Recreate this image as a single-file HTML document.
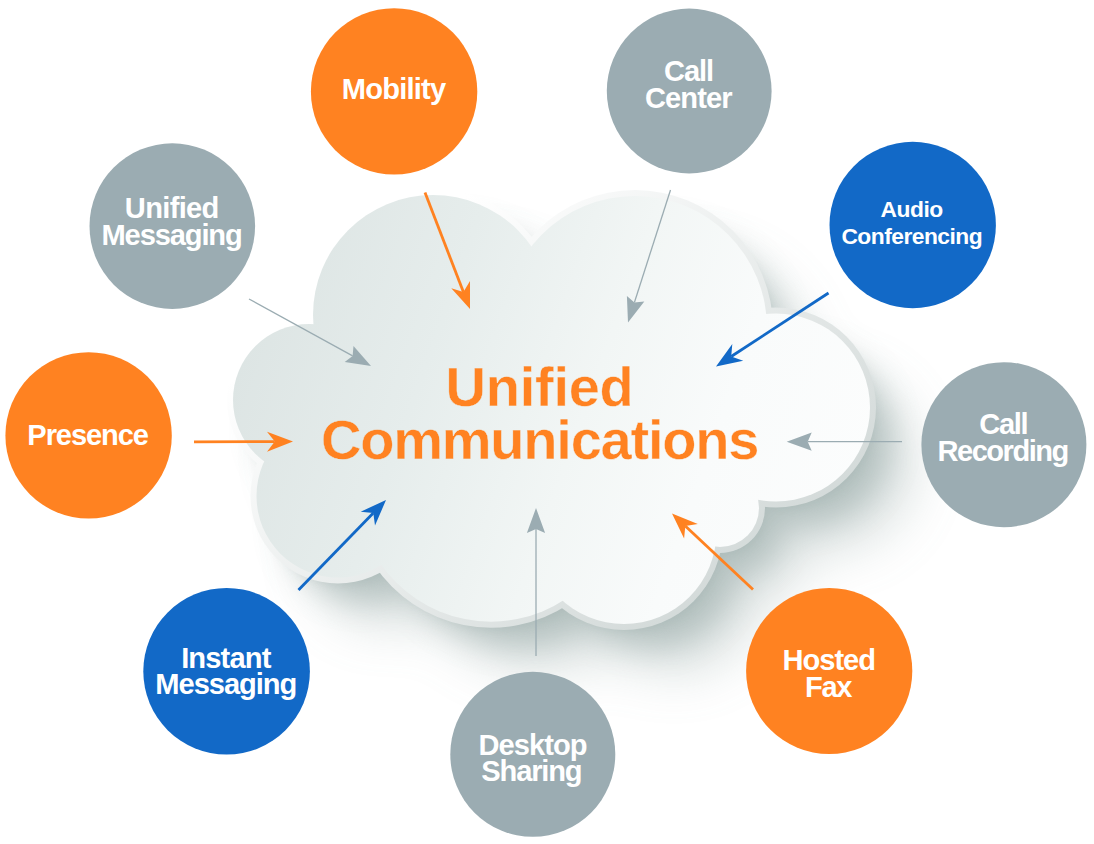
<!DOCTYPE html>
<html lang="en"><head><meta charset="utf-8"><title>Unified Communications</title>
<style>
html,body{margin:0;padding:0;background:#fff;}
body{width:1094px;height:844px;overflow:hidden;}
svg{display:block;}
text{font-family:"Liberation Sans",sans-serif;font-weight:bold;}
</style></head><body>
<svg width="1094" height="844" viewBox="0 0 1094 844">
<defs>
<linearGradient id="face" gradientUnits="userSpaceOnUse" x1="240" y1="300" x2="860" y2="520">
<stop offset="0" stop-color="#DCE4E3"/><stop offset="0.3" stop-color="#E6EDEC"/><stop offset="0.55" stop-color="#F2F6F5"/><stop offset="0.75" stop-color="#F9FBFB"/><stop offset="1" stop-color="#FCFDFD"/>
</linearGradient>
<linearGradient id="rim" gradientUnits="userSpaceOnUse" x1="350" y1="287" x2="646" y2="665">
<stop offset="0" stop-color="#FFFFFF"/><stop offset="1" stop-color="#D2D9D8"/>
</linearGradient>
<filter id="sh0" x="-30%" y="-30%" width="160%" height="160%"><feGaussianBlur stdDeviation="28"/></filter>
<filter id="sh1" x="-30%" y="-30%" width="160%" height="160%"><feGaussianBlur stdDeviation="16"/></filter>
<filter id="sh2" x="-30%" y="-30%" width="160%" height="160%"><feGaussianBlur stdDeviation="4"/></filter>
</defs>
<rect width="1094" height="844" fill="#fff"/>

<g class="cloud">
<g transform="translate(50,54)" filter="url(#sh0)" opacity="0.40"><g fill="#8FA3A0" ><circle cx="433" cy="315" r="110"/><circle cx="635" cy="328" r="122"/><circle cx="776" cy="407.5" r="84"/><circle cx="720" cy="508" r="29"/><circle cx="624" cy="531.5" r="82.5"/><circle cx="491" cy="487.4" r="124.30000000000001"/><circle cx="338" cy="496" r="71.5"/><circle cx="309" cy="400" r="66"/><polygon points="433,315 638,320 780,406 720,508 618,525 490,497 337,496 309,400"/></g></g>
<g transform="translate(24,27)" filter="url(#sh1)" opacity="0.46"><g fill="#8FA3A0" ><circle cx="433" cy="315" r="116"/><circle cx="635" cy="328" r="128"/><circle cx="776" cy="407.5" r="90"/><circle cx="720" cy="508" r="35"/><circle cx="624" cy="531.5" r="88.5"/><circle cx="491" cy="487.4" r="130.3"/><circle cx="338" cy="496" r="77.5"/><circle cx="309" cy="400" r="72"/><polygon points="433,315 638,320 780,406 720,508 618,525 490,497 337,496 309,400"/></g></g>
<g transform="translate(6,8)" filter="url(#sh2)" opacity="0.15"><g fill="#8FA3A0" ><circle cx="433" cy="315" r="120"/><circle cx="635" cy="328" r="132"/><circle cx="776" cy="407.5" r="94"/><circle cx="720" cy="508" r="39"/><circle cx="624" cy="531.5" r="92.5"/><circle cx="491" cy="487.4" r="134.3"/><circle cx="338" cy="496" r="81.5"/><circle cx="309" cy="400" r="76"/><polygon points="433,315 638,320 780,406 720,508 618,525 490,497 337,496 309,400"/></g></g>
<g fill="url(#rim)" ><circle cx="433" cy="315" r="126"/><circle cx="635" cy="328" r="138"/><circle cx="776" cy="407.5" r="100"/><circle cx="720" cy="508" r="45"/><circle cx="624" cy="531.5" r="98.5"/><circle cx="491" cy="487.4" r="140.3"/><circle cx="338" cy="496" r="87.5"/><circle cx="309" cy="400" r="82"/></g>
<g fill="url(#face)" ><circle cx="433" cy="315" r="120"/><circle cx="635" cy="328" r="132"/><circle cx="776" cy="407.5" r="94"/><circle cx="720" cy="508" r="39"/><circle cx="624" cy="531.5" r="92.5"/><circle cx="491" cy="487.4" r="134.3"/><circle cx="338" cy="496" r="81.5"/><circle cx="309" cy="400" r="76"/><polygon points="433,315 638,320 780,406 720,508 618,525 490,497 337,496 309,400"/></g>
</g>
<g class="title">
<text x="445.61" y="406" font-size="56" fill="#FF8221" stroke="url(#face)" stroke-width="0.4" textLength="188.19" lengthAdjust="spacing">Unified</text>
<text x="320.91" y="459" font-size="56" fill="#FF8221" stroke="url(#face)" stroke-width="0.4" textLength="438.54" lengthAdjust="spacing">Communications</text>
</g>
<g class="arrows">
<line x1="425.0" y1="192.5" x2="463.4" y2="292.0" stroke="#FF8221" stroke-width="2.8"/><polygon points="470.0,309.0 451.3,288.3 463.4,292.0 470.0,281.1" fill="#FF8221"/>
<line x1="249.0" y1="299.0" x2="352.6" y2="355.9" stroke="#9BACB2" stroke-width="1.3"/><polygon points="371.0,366.0 344.7,362.0 352.6,355.9 353.5,345.9" fill="#9BACB2"/>
<line x1="194.0" y1="441.8" x2="274.8" y2="441.6" stroke="#FF8221" stroke-width="2.8"/><polygon points="293.0,441.6 267.0,451.7 274.8,441.6 267.0,431.7" fill="#FF8221"/>
<line x1="670.5" y1="190.0" x2="634.4" y2="302.5" stroke="#9BACB2" stroke-width="1.3"/><polygon points="628.0,322.5 626.9,295.9 634.4,302.5 644.3,301.5" fill="#9BACB2"/>
<line x1="828.5" y1="293.0" x2="731.2" y2="356.5" stroke="#1269C7" stroke-width="2.8"/><polygon points="716.0,366.5 732.3,343.9 731.2,356.5 743.2,360.7" fill="#1269C7"/>
<line x1="902.0" y1="441.7" x2="807.7" y2="441.7" stroke="#9BACB2" stroke-width="1.3"/><polygon points="786.7,441.7 811.7,432.6 807.7,441.7 811.7,450.8" fill="#9BACB2"/>
<line x1="753.0" y1="589.5" x2="685.3" y2="526.0" stroke="#FF8221" stroke-width="2.8"/><polygon points="672.0,513.5 697.8,524.0 685.3,526.0 684.1,538.6" fill="#FF8221"/>
<line x1="536.0" y1="656.0" x2="536.0" y2="529.0" stroke="#9BACB2" stroke-width="1.3"/><polygon points="536.0,508.0 545.1,533.0 536.0,529.0 526.9,533.0" fill="#9BACB2"/>
<line x1="298.5" y1="590.0" x2="373.3" y2="513.0" stroke="#1269C7" stroke-width="2.8"/><polygon points="386.0,500.0 375.0,525.6 373.3,513.0 360.7,511.7" fill="#1269C7"/>
</g>
<g class="node">
<circle cx="394.1" cy="91.4" r="83.2" fill="#FF8221"/>
<text x="341.67" y="99" font-size="29.1" fill="#fff" textLength="104.52" lengthAdjust="spacing">Mobility</text>
</g>
<g class="node">
<circle cx="172.3" cy="226.1" r="82.8" fill="#9BACB2"/>
<text x="124.87" y="218" font-size="29.1" fill="#fff" textLength="94.48" lengthAdjust="spacing">Unified</text>
<text x="101.52" y="245" font-size="29.1" fill="#fff" textLength="141.26" lengthAdjust="spacing">Messaging</text>
</g>
<g class="node">
<circle cx="88.6" cy="435.4" r="83.2" fill="#FF8221"/>
<text x="27.34" y="445" font-size="29.1" fill="#fff" textLength="121.65" lengthAdjust="spacing">Presence</text>
</g>
<g class="node">
<circle cx="689.2" cy="91.0" r="82.4" fill="#9BACB2"/>
<text x="664.06" y="81" font-size="29.1" fill="#fff" textLength="50.01" lengthAdjust="spacing">Call</text>
<text x="644.90" y="108" font-size="29.1" fill="#fff" textLength="87.80" lengthAdjust="spacing">Center</text>
</g>
<g class="node">
<circle cx="912.7" cy="225.0" r="83.2" fill="#1269C7"/>
<text x="880.47" y="217" font-size="22.8" fill="#fff" textLength="62.80" lengthAdjust="spacing">Audio</text>
<text x="841.41" y="244" font-size="22.8" fill="#fff" textLength="141.24" lengthAdjust="spacing">Conferencing</text>
</g>
<g class="node">
<circle cx="1003.9" cy="444.7" r="82.5" fill="#9BACB2"/>
<text x="979.18" y="434" font-size="29.1" fill="#fff" textLength="49.45" lengthAdjust="spacing">Call</text>
<text x="937.50" y="461" font-size="29.1" fill="#fff" textLength="131.84" lengthAdjust="spacing">Recording</text>
</g>
<g class="node">
<circle cx="226.6" cy="671.3" r="83.3" fill="#1269C7"/>
<text x="181.14" y="668" font-size="29.1" fill="#fff" textLength="90.19" lengthAdjust="spacing">Instant</text>
<text x="155.33" y="694" font-size="29.1" fill="#fff" textLength="141.95" lengthAdjust="spacing">Messaging</text>
</g>
<g class="node">
<circle cx="532.8" cy="754.3" r="82.5" fill="#9BACB2"/>
<text x="478.43" y="755" font-size="29.1" fill="#fff" textLength="109.20" lengthAdjust="spacing">Desktop</text>
<text x="481.37" y="781" font-size="29.1" fill="#fff" textLength="101.23" lengthAdjust="spacing">Sharing</text>
</g>
<g class="node">
<circle cx="829.2" cy="671.0" r="83.1" fill="#FF8221"/>
<text x="782.61" y="670" font-size="29.1" fill="#fff" textLength="93.32" lengthAdjust="spacing">Hosted</text>
<text x="805.12" y="697" font-size="29.1" fill="#fff" textLength="47.38" lengthAdjust="spacing">Fax</text>
</g>
</svg></body></html>
